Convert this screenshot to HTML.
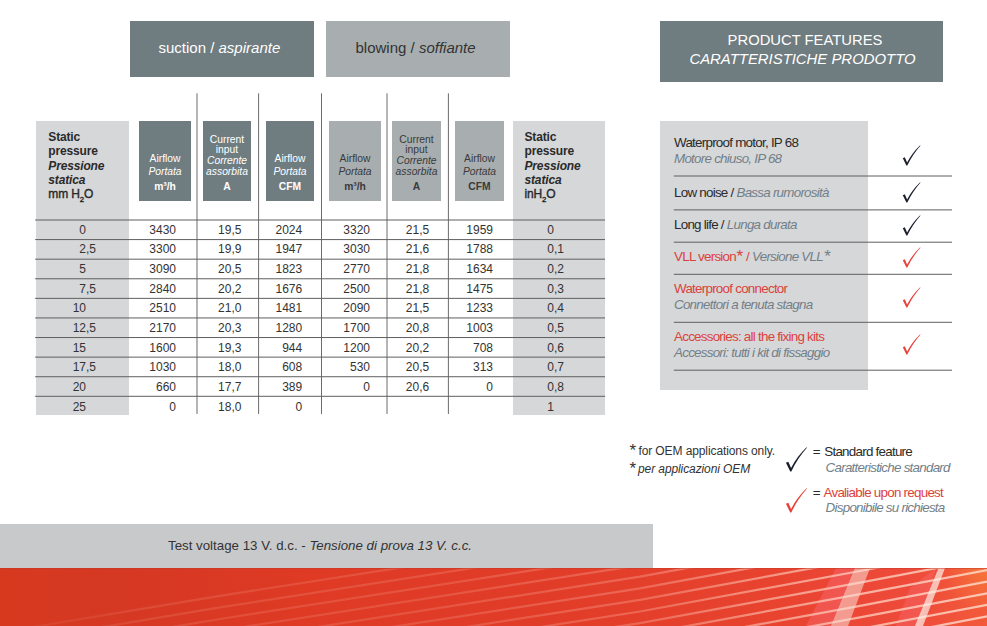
<!DOCTYPE html>
<html><head><meta charset="utf-8"><style>
*{margin:0;padding:0;box-sizing:border-box}
html,body{width:987px;height:626px;overflow:hidden;background:#fff}
body{position:relative;font-family:"Liberation Sans",sans-serif}
.r{position:absolute}
.t{position:absolute;white-space:nowrap}
sub{font-size:65%;vertical-align:-4px;line-height:0}
sup{font-size:110%;vertical-align:3px;line-height:0}
</style></head><body>
<div class="r" style="left:130px;top:21px;width:184px;height:56px;background:#6f7c80;"></div>
<div class="r" style="left:326px;top:21px;width:184px;height:56px;background:#a8aeb0;"></div>
<div class="t" style="left:158.5px;top:39px;font-size:15px;line-height:18px;color:#fff;">suction / <i>aspirante</i></div>
<div class="t" style="left:355.5px;top:39px;font-size:15px;line-height:18px;color:#333;">blowing / <i>soffiante</i></div>
<div class="r" style="left:660px;top:21px;width:283px;height:61px;background:#6f7c80;"></div>
<div class="t" style="left:605.0px;width:400px;text-align:center;top:31px;font-size:14.8px;line-height:18px;color:#fff;">PRODUCT FEATURES</div>
<div class="t" style="left:602.5px;width:400px;text-align:center;top:50px;font-size:14.9px;line-height:18px;color:#fff;"><i>CARATTERISTICHE PRODOTTO</i></div>
<div class="r" style="left:36px;top:121px;width:93px;height:294px;background:#d6d7d9;"></div>
<div class="r" style="left:513px;top:121px;width:92px;height:294px;background:#d6d7d9;"></div>
<div class="r" style="left:139px;top:121px;width:52px;height:80px;background:#6f7c80;"></div>
<div class="t" style="left:135.0px;width:60px;text-align:center;top:153px;font-size:10.3px;line-height:12px;color:#fff;">Airflow</div>
<div class="t" style="left:135.0px;width:60px;text-align:center;top:166px;font-size:10.3px;line-height:12px;color:#fff;"><i>Portata</i></div>
<div class="t" style="left:135.0px;width:60px;text-align:center;top:181px;font-size:10.3px;line-height:12px;color:#fff;"><b>m&sup3;/h</b></div>
<div class="r" style="left:203px;top:121px;width:48px;height:80px;background:#6f7c80;"></div>
<div class="t" style="left:197.0px;width:60px;text-align:center;top:134px;font-size:10.3px;line-height:12px;color:#fff;">Current</div>
<div class="t" style="left:197.0px;width:60px;text-align:center;top:144px;font-size:10.3px;line-height:12px;color:#fff;">input</div>
<div class="t" style="left:197.0px;width:60px;text-align:center;top:155px;font-size:10.3px;line-height:12px;color:#fff;"><i>Corrente</i></div>
<div class="t" style="left:197.0px;width:60px;text-align:center;top:166px;font-size:10.3px;line-height:12px;color:#fff;"><i>assorbita</i></div>
<div class="t" style="left:197.0px;width:60px;text-align:center;top:181px;font-size:10.3px;line-height:12px;color:#fff;"><b>A</b></div>
<div class="r" style="left:266px;top:121px;width:48px;height:80px;background:#6f7c80;"></div>
<div class="t" style="left:260.0px;width:60px;text-align:center;top:153px;font-size:10.3px;line-height:12px;color:#fff;">Airflow</div>
<div class="t" style="left:260.0px;width:60px;text-align:center;top:166px;font-size:10.3px;line-height:12px;color:#fff;"><i>Portata</i></div>
<div class="t" style="left:260.0px;width:60px;text-align:center;top:181px;font-size:10.3px;line-height:12px;color:#fff;"><b>CFM</b></div>
<div class="r" style="left:329px;top:121px;width:52px;height:80px;background:#a8aeb0;"></div>
<div class="t" style="left:325.0px;width:60px;text-align:center;top:153px;font-size:10.3px;line-height:12px;color:#3a3a3a;">Airflow</div>
<div class="t" style="left:325.0px;width:60px;text-align:center;top:166px;font-size:10.3px;line-height:12px;color:#3a3a3a;"><i>Portata</i></div>
<div class="t" style="left:325.0px;width:60px;text-align:center;top:181px;font-size:10.3px;line-height:12px;color:#3a3a3a;"><b>m&sup3;/h</b></div>
<div class="r" style="left:392px;top:121px;width:49px;height:80px;background:#a8aeb0;"></div>
<div class="t" style="left:386.5px;width:60px;text-align:center;top:134px;font-size:10.3px;line-height:12px;color:#3a3a3a;">Current</div>
<div class="t" style="left:386.5px;width:60px;text-align:center;top:144px;font-size:10.3px;line-height:12px;color:#3a3a3a;">input</div>
<div class="t" style="left:386.5px;width:60px;text-align:center;top:155px;font-size:10.3px;line-height:12px;color:#3a3a3a;"><i>Corrente</i></div>
<div class="t" style="left:386.5px;width:60px;text-align:center;top:166px;font-size:10.3px;line-height:12px;color:#3a3a3a;"><i>assorbita</i></div>
<div class="t" style="left:386.5px;width:60px;text-align:center;top:181px;font-size:10.3px;line-height:12px;color:#3a3a3a;"><b>A</b></div>
<div class="r" style="left:455px;top:121px;width:49px;height:80px;background:#a8aeb0;"></div>
<div class="t" style="left:449.5px;width:60px;text-align:center;top:153px;font-size:10.3px;line-height:12px;color:#3a3a3a;">Airflow</div>
<div class="t" style="left:449.5px;width:60px;text-align:center;top:166px;font-size:10.3px;line-height:12px;color:#3a3a3a;"><i>Portata</i></div>
<div class="t" style="left:449.5px;width:60px;text-align:center;top:181px;font-size:10.3px;line-height:12px;color:#3a3a3a;"><b>CFM</b></div>
<div class="t" style="left:48.3px;top:130px;font-size:12px;line-height:14px;color:#2a2a2a;letter-spacing:-0.15px;"><b>Static</b></div>
<div class="t" style="left:48.3px;top:144px;font-size:12px;line-height:14px;color:#2a2a2a;letter-spacing:-0.15px;"><b>pressure</b></div>
<div class="t" style="left:48.3px;top:159px;font-size:12px;line-height:14px;color:#2a2a2a;letter-spacing:-0.15px;"><b><i>Pressione</i></b></div>
<div class="t" style="left:48.3px;top:173px;font-size:12px;line-height:14px;color:#2a2a2a;letter-spacing:-0.15px;"><b><i>statica</i></b></div>
<div class="t" style="left:48.3px;top:187px;font-size:12px;line-height:14px;color:#2a2a2a;letter-spacing:-0.15px;"><span style="-webkit-text-stroke:0.35px #222">mm H<sub>2</sub>O</span></div>
<div class="t" style="left:524.5px;top:130px;font-size:12px;line-height:14px;color:#2a2a2a;letter-spacing:-0.15px;"><b>Static</b></div>
<div class="t" style="left:524.5px;top:144px;font-size:12px;line-height:14px;color:#2a2a2a;letter-spacing:-0.15px;"><b>pressure</b></div>
<div class="t" style="left:524.5px;top:159px;font-size:12px;line-height:14px;color:#2a2a2a;letter-spacing:-0.15px;"><b><i>Pressione</i></b></div>
<div class="t" style="left:524.5px;top:173px;font-size:12px;line-height:14px;color:#2a2a2a;letter-spacing:-0.15px;"><b><i>statica</i></b></div>
<div class="t" style="left:524.5px;top:187px;font-size:12px;line-height:14px;color:#2a2a2a;letter-spacing:-0.15px;"><span style="-webkit-text-stroke:0.35px #222">inH<sub>2</sub>O</span></div>
<svg class="r" style="left:0;top:0" width="987" height="626"><line x1="197.0" y1="93.3" x2="197.0" y2="414" stroke="#6c6c6c" stroke-width="1"/><line x1="258.6" y1="93.3" x2="258.6" y2="414" stroke="#6c6c6c" stroke-width="1"/><line x1="321.5" y1="93.3" x2="321.5" y2="414" stroke="#6c6c6c" stroke-width="1"/><line x1="387.0" y1="93.3" x2="387.0" y2="414" stroke="#6c6c6c" stroke-width="1"/><line x1="448.4" y1="93.3" x2="448.4" y2="414" stroke="#6c6c6c" stroke-width="1"/><line x1="35.2" y1="220.00" x2="605" y2="220.00" stroke="#5f5f5f" stroke-width="1"/><line x1="35.2" y1="239.59" x2="605" y2="239.59" stroke="#5f5f5f" stroke-width="1"/><line x1="35.2" y1="259.18" x2="605" y2="259.18" stroke="#5f5f5f" stroke-width="1"/><line x1="35.2" y1="278.77" x2="605" y2="278.77" stroke="#5f5f5f" stroke-width="1"/><line x1="35.2" y1="298.36" x2="605" y2="298.36" stroke="#5f5f5f" stroke-width="1"/><line x1="35.2" y1="317.95" x2="605" y2="317.95" stroke="#5f5f5f" stroke-width="1"/><line x1="35.2" y1="337.54" x2="605" y2="337.54" stroke="#5f5f5f" stroke-width="1"/><line x1="35.2" y1="357.13" x2="605" y2="357.13" stroke="#5f5f5f" stroke-width="1"/><line x1="35.2" y1="376.72" x2="605" y2="376.72" stroke="#5f5f5f" stroke-width="1"/><line x1="35.2" y1="396.31" x2="605" y2="396.31" stroke="#5f5f5f" stroke-width="1"/></svg>
<div class="t" style="left:26px;width:60px;text-align:right;top:223px;font-size:12px;line-height:14px;color:#333;">0</div>
<div class="t" style="left:116px;width:60px;text-align:right;top:223px;font-size:12px;line-height:14px;color:#333;">3430</div>
<div class="t" style="left:199.8px;width:60px;text-align:center;top:223px;font-size:12px;line-height:14px;color:#333;">19,5</div>
<div class="t" style="left:242.2px;width:60px;text-align:right;top:223px;font-size:12px;line-height:14px;color:#333;">2024</div>
<div class="t" style="left:310px;width:60px;text-align:right;top:223px;font-size:12px;line-height:14px;color:#333;">3320</div>
<div class="t" style="left:387.5px;width:60px;text-align:center;top:223px;font-size:12px;line-height:14px;color:#333;">21,5</div>
<div class="t" style="left:433px;width:60px;text-align:right;top:223px;font-size:12px;line-height:14px;color:#333;">1959</div>
<div class="t" style="left:494px;width:60px;text-align:right;top:223px;font-size:12px;line-height:14px;color:#333;">0</div>
<div class="t" style="left:26px;width:60px;text-align:right;top:242px;font-size:12px;line-height:14px;color:#333;">2</div>
<div class="t" style="left:86px;top:242px;font-size:12px;line-height:14px;color:#333;">,5</div>
<div class="t" style="left:116px;width:60px;text-align:right;top:242px;font-size:12px;line-height:14px;color:#333;">3300</div>
<div class="t" style="left:199.8px;width:60px;text-align:center;top:242px;font-size:12px;line-height:14px;color:#333;">19,9</div>
<div class="t" style="left:242.2px;width:60px;text-align:right;top:242px;font-size:12px;line-height:14px;color:#333;">1947</div>
<div class="t" style="left:310px;width:60px;text-align:right;top:242px;font-size:12px;line-height:14px;color:#333;">3030</div>
<div class="t" style="left:387.5px;width:60px;text-align:center;top:242px;font-size:12px;line-height:14px;color:#333;">21,6</div>
<div class="t" style="left:433px;width:60px;text-align:right;top:242px;font-size:12px;line-height:14px;color:#333;">1788</div>
<div class="t" style="left:494px;width:60px;text-align:right;top:242px;font-size:12px;line-height:14px;color:#333;">0</div>
<div class="t" style="left:554px;top:242px;font-size:12px;line-height:14px;color:#333;">,1</div>
<div class="t" style="left:26px;width:60px;text-align:right;top:262px;font-size:12px;line-height:14px;color:#333;">5</div>
<div class="t" style="left:116px;width:60px;text-align:right;top:262px;font-size:12px;line-height:14px;color:#333;">3090</div>
<div class="t" style="left:199.8px;width:60px;text-align:center;top:262px;font-size:12px;line-height:14px;color:#333;">20,5</div>
<div class="t" style="left:242.2px;width:60px;text-align:right;top:262px;font-size:12px;line-height:14px;color:#333;">1823</div>
<div class="t" style="left:310px;width:60px;text-align:right;top:262px;font-size:12px;line-height:14px;color:#333;">2770</div>
<div class="t" style="left:387.5px;width:60px;text-align:center;top:262px;font-size:12px;line-height:14px;color:#333;">21,8</div>
<div class="t" style="left:433px;width:60px;text-align:right;top:262px;font-size:12px;line-height:14px;color:#333;">1634</div>
<div class="t" style="left:494px;width:60px;text-align:right;top:262px;font-size:12px;line-height:14px;color:#333;">0</div>
<div class="t" style="left:554px;top:262px;font-size:12px;line-height:14px;color:#333;">,2</div>
<div class="t" style="left:26px;width:60px;text-align:right;top:282px;font-size:12px;line-height:14px;color:#333;">7</div>
<div class="t" style="left:86px;top:282px;font-size:12px;line-height:14px;color:#333;">,5</div>
<div class="t" style="left:116px;width:60px;text-align:right;top:282px;font-size:12px;line-height:14px;color:#333;">2840</div>
<div class="t" style="left:199.8px;width:60px;text-align:center;top:282px;font-size:12px;line-height:14px;color:#333;">20,2</div>
<div class="t" style="left:242.2px;width:60px;text-align:right;top:282px;font-size:12px;line-height:14px;color:#333;">1676</div>
<div class="t" style="left:310px;width:60px;text-align:right;top:282px;font-size:12px;line-height:14px;color:#333;">2500</div>
<div class="t" style="left:387.5px;width:60px;text-align:center;top:282px;font-size:12px;line-height:14px;color:#333;">21,8</div>
<div class="t" style="left:433px;width:60px;text-align:right;top:282px;font-size:12px;line-height:14px;color:#333;">1475</div>
<div class="t" style="left:494px;width:60px;text-align:right;top:282px;font-size:12px;line-height:14px;color:#333;">0</div>
<div class="t" style="left:554px;top:282px;font-size:12px;line-height:14px;color:#333;">,3</div>
<div class="t" style="left:26px;width:60px;text-align:right;top:301px;font-size:12px;line-height:14px;color:#333;">10</div>
<div class="t" style="left:116px;width:60px;text-align:right;top:301px;font-size:12px;line-height:14px;color:#333;">2510</div>
<div class="t" style="left:199.8px;width:60px;text-align:center;top:301px;font-size:12px;line-height:14px;color:#333;">21,0</div>
<div class="t" style="left:242.2px;width:60px;text-align:right;top:301px;font-size:12px;line-height:14px;color:#333;">1481</div>
<div class="t" style="left:310px;width:60px;text-align:right;top:301px;font-size:12px;line-height:14px;color:#333;">2090</div>
<div class="t" style="left:387.5px;width:60px;text-align:center;top:301px;font-size:12px;line-height:14px;color:#333;">21,5</div>
<div class="t" style="left:433px;width:60px;text-align:right;top:301px;font-size:12px;line-height:14px;color:#333;">1233</div>
<div class="t" style="left:494px;width:60px;text-align:right;top:301px;font-size:12px;line-height:14px;color:#333;">0</div>
<div class="t" style="left:554px;top:301px;font-size:12px;line-height:14px;color:#333;">,4</div>
<div class="t" style="left:26px;width:60px;text-align:right;top:321px;font-size:12px;line-height:14px;color:#333;">12</div>
<div class="t" style="left:86px;top:321px;font-size:12px;line-height:14px;color:#333;">,5</div>
<div class="t" style="left:116px;width:60px;text-align:right;top:321px;font-size:12px;line-height:14px;color:#333;">2170</div>
<div class="t" style="left:199.8px;width:60px;text-align:center;top:321px;font-size:12px;line-height:14px;color:#333;">20,3</div>
<div class="t" style="left:242.2px;width:60px;text-align:right;top:321px;font-size:12px;line-height:14px;color:#333;">1280</div>
<div class="t" style="left:310px;width:60px;text-align:right;top:321px;font-size:12px;line-height:14px;color:#333;">1700</div>
<div class="t" style="left:387.5px;width:60px;text-align:center;top:321px;font-size:12px;line-height:14px;color:#333;">20,8</div>
<div class="t" style="left:433px;width:60px;text-align:right;top:321px;font-size:12px;line-height:14px;color:#333;">1003</div>
<div class="t" style="left:494px;width:60px;text-align:right;top:321px;font-size:12px;line-height:14px;color:#333;">0</div>
<div class="t" style="left:554px;top:321px;font-size:12px;line-height:14px;color:#333;">,5</div>
<div class="t" style="left:26px;width:60px;text-align:right;top:341px;font-size:12px;line-height:14px;color:#333;">15</div>
<div class="t" style="left:116px;width:60px;text-align:right;top:341px;font-size:12px;line-height:14px;color:#333;">1600</div>
<div class="t" style="left:199.8px;width:60px;text-align:center;top:341px;font-size:12px;line-height:14px;color:#333;">19,3</div>
<div class="t" style="left:242.2px;width:60px;text-align:right;top:341px;font-size:12px;line-height:14px;color:#333;">944</div>
<div class="t" style="left:310px;width:60px;text-align:right;top:341px;font-size:12px;line-height:14px;color:#333;">1200</div>
<div class="t" style="left:387.5px;width:60px;text-align:center;top:341px;font-size:12px;line-height:14px;color:#333;">20,2</div>
<div class="t" style="left:433px;width:60px;text-align:right;top:341px;font-size:12px;line-height:14px;color:#333;">708</div>
<div class="t" style="left:494px;width:60px;text-align:right;top:341px;font-size:12px;line-height:14px;color:#333;">0</div>
<div class="t" style="left:554px;top:341px;font-size:12px;line-height:14px;color:#333;">,6</div>
<div class="t" style="left:26px;width:60px;text-align:right;top:360px;font-size:12px;line-height:14px;color:#333;">17</div>
<div class="t" style="left:86px;top:360px;font-size:12px;line-height:14px;color:#333;">,5</div>
<div class="t" style="left:116px;width:60px;text-align:right;top:360px;font-size:12px;line-height:14px;color:#333;">1030</div>
<div class="t" style="left:199.8px;width:60px;text-align:center;top:360px;font-size:12px;line-height:14px;color:#333;">18,0</div>
<div class="t" style="left:242.2px;width:60px;text-align:right;top:360px;font-size:12px;line-height:14px;color:#333;">608</div>
<div class="t" style="left:310px;width:60px;text-align:right;top:360px;font-size:12px;line-height:14px;color:#333;">530</div>
<div class="t" style="left:387.5px;width:60px;text-align:center;top:360px;font-size:12px;line-height:14px;color:#333;">20,5</div>
<div class="t" style="left:433px;width:60px;text-align:right;top:360px;font-size:12px;line-height:14px;color:#333;">313</div>
<div class="t" style="left:494px;width:60px;text-align:right;top:360px;font-size:12px;line-height:14px;color:#333;">0</div>
<div class="t" style="left:554px;top:360px;font-size:12px;line-height:14px;color:#333;">,7</div>
<div class="t" style="left:26px;width:60px;text-align:right;top:380px;font-size:12px;line-height:14px;color:#333;">20</div>
<div class="t" style="left:116px;width:60px;text-align:right;top:380px;font-size:12px;line-height:14px;color:#333;">660</div>
<div class="t" style="left:199.8px;width:60px;text-align:center;top:380px;font-size:12px;line-height:14px;color:#333;">17,7</div>
<div class="t" style="left:242.2px;width:60px;text-align:right;top:380px;font-size:12px;line-height:14px;color:#333;">389</div>
<div class="t" style="left:310px;width:60px;text-align:right;top:380px;font-size:12px;line-height:14px;color:#333;">0</div>
<div class="t" style="left:387.5px;width:60px;text-align:center;top:380px;font-size:12px;line-height:14px;color:#333;">20,6</div>
<div class="t" style="left:433px;width:60px;text-align:right;top:380px;font-size:12px;line-height:14px;color:#333;">0</div>
<div class="t" style="left:494px;width:60px;text-align:right;top:380px;font-size:12px;line-height:14px;color:#333;">0</div>
<div class="t" style="left:554px;top:380px;font-size:12px;line-height:14px;color:#333;">,8</div>
<div class="t" style="left:26px;width:60px;text-align:right;top:400px;font-size:12px;line-height:14px;color:#333;">25</div>
<div class="t" style="left:116px;width:60px;text-align:right;top:400px;font-size:12px;line-height:14px;color:#333;">0</div>
<div class="t" style="left:199.8px;width:60px;text-align:center;top:400px;font-size:12px;line-height:14px;color:#333;">18,0</div>
<div class="t" style="left:242.2px;width:60px;text-align:right;top:400px;font-size:12px;line-height:14px;color:#333;">0</div>
<div class="t" style="left:494px;width:60px;text-align:right;top:400px;font-size:12px;line-height:14px;color:#333;">1</div>
<div class="r" style="left:660px;top:121px;width:208px;height:269px;background:#d6d7d9;"></div>
<svg class="r" style="left:0;top:0" width="987" height="626"><line x1="673.8" y1="176.0" x2="952" y2="176.0" stroke="#5f5f5f" stroke-width="1"/><line x1="673.8" y1="209.9" x2="952" y2="209.9" stroke="#5f5f5f" stroke-width="1"/><line x1="673.8" y1="242.2" x2="952" y2="242.2" stroke="#5f5f5f" stroke-width="1"/><line x1="673.8" y1="274.3" x2="952" y2="274.3" stroke="#5f5f5f" stroke-width="1"/><line x1="673.8" y1="322.3" x2="952" y2="322.3" stroke="#5f5f5f" stroke-width="1"/><line x1="673.8" y1="370.2" x2="952" y2="370.2" stroke="#5f5f5f" stroke-width="1"/></svg>
<div class="t" style="left:674px;top:135px;font-size:13.4px;line-height:16px;color:#2a2a2a;letter-spacing:-0.75px;">Waterproof motor, IP 68</div>
<div class="t" style="left:674px;top:151px;font-size:13.4px;line-height:16px;color:#727f88;letter-spacing:-0.75px;"><i>Motore chiuso, IP 68</i></div>
<div class="t" style="left:674px;top:185px;font-size:13.4px;line-height:16px;color:#2a2a2a;letter-spacing:-0.75px;">Low noise / <i style="color:#727f88">Bassa rumorosità</i></div>
<div class="t" style="left:674px;top:217px;font-size:13.4px;line-height:16px;color:#2a2a2a;letter-spacing:-0.75px;">Long life / <i style="color:#727f88">Lunga durata</i></div>
<div class="t" style="left:674px;top:249px;font-size:13.4px;line-height:16px;color:#dc423c;letter-spacing:-0.75px;">VLL version<span style="font-size:17px;line-height:0;vertical-align:-1px;letter-spacing:0;margin-left:0.5px">*</span> / <i style="color:#727f88">Versione VLL<span style="font-size:17px;line-height:0;vertical-align:-1px;letter-spacing:0;margin-left:0.5px">*</span></i></div>
<div class="t" style="left:674px;top:281px;font-size:13.4px;line-height:16px;color:#dc423c;letter-spacing:-0.75px;">Waterproof connector</div>
<div class="t" style="left:674px;top:297px;font-size:13.4px;line-height:16px;color:#727f88;letter-spacing:-0.75px;"><i>Connettori a tenuta stagna</i></div>
<div class="t" style="left:674px;top:329px;font-size:13.4px;line-height:16px;color:#dc423c;letter-spacing:-0.75px;">Accessories: all the fixing kits</div>
<div class="t" style="left:674px;top:345px;font-size:13.4px;line-height:16px;color:#727f88;letter-spacing:-0.75px;"><i>Accessori: tutti i kit di fissaggio</i></div>
<svg class="r" style="left:902px;top:145.2px;overflow:visible" width="20.0" height="22.0" viewBox="0 0 20 22"><path d="M0.8,13.2 L2.8,12.3 L5.1,17.6 Q9.8,8.4 17.9,0.5 L18.6,0.5 Q10.4,9.7 5.3,20.6 L4.4,20.6 Z" fill="#1c1f2e"/></svg>
<svg class="r" style="left:902px;top:182px;overflow:visible" width="20.0" height="22.0" viewBox="0 0 20 22"><path d="M0.8,13.2 L2.8,12.3 L5.1,17.6 Q9.8,8.4 17.9,0.5 L18.6,0.5 Q10.4,9.7 5.3,20.6 L4.4,20.6 Z" fill="#1c1f2e"/></svg>
<svg class="r" style="left:902px;top:214.8px;overflow:visible" width="20.0" height="22.0" viewBox="0 0 20 22"><path d="M0.8,13.2 L2.8,12.3 L5.1,17.6 Q9.8,8.4 17.9,0.5 L18.6,0.5 Q10.4,9.7 5.3,20.6 L4.4,20.6 Z" fill="#1c1f2e"/></svg>
<svg class="r" style="left:902px;top:247.3px;overflow:visible" width="20.0" height="22.0" viewBox="0 0 20 22"><path d="M0.8,13.2 L2.8,12.3 L5.1,17.6 Q9.8,8.4 17.9,0.5 L18.6,0.5 Q10.4,9.7 5.3,20.6 L4.4,20.6 Z" fill="#e8413a"/></svg>
<svg class="r" style="left:902px;top:287px;overflow:visible" width="20.0" height="22.0" viewBox="0 0 20 22"><path d="M0.8,13.2 L2.8,12.3 L5.1,17.6 Q9.8,8.4 17.9,0.5 L18.6,0.5 Q10.4,9.7 5.3,20.6 L4.4,20.6 Z" fill="#e8413a"/></svg>
<svg class="r" style="left:902px;top:333.5px;overflow:visible" width="20.0" height="22.0" viewBox="0 0 20 22"><path d="M0.8,13.2 L2.8,12.3 L5.1,17.6 Q9.8,8.4 17.9,0.5 L18.6,0.5 Q10.4,9.7 5.3,20.6 L4.4,20.6 Z" fill="#e8413a"/></svg>
<div class="t" style="left:629.5px;top:444px;font-size:12px;line-height:14px;color:#333;letter-spacing:-0.1px;"><span style="font-size:17px;line-height:0;vertical-align:-1px;margin-right:2.4px">*</span>for OEM applications only.</div>
<div class="t" style="left:629.5px;top:462px;font-size:12px;line-height:14px;color:#333;letter-spacing:-0.1px;"><span style="font-size:17px;line-height:0;vertical-align:-1px;margin-right:2px">*</span><i>per applicazioni OEM</i></div>
<svg class="r" style="left:785.3px;top:447.2px;overflow:visible" width="23.8" height="26.2" viewBox="0 0 20 22"><path d="M0.8,13.2 L2.8,12.3 L5.1,17.6 Q9.8,8.4 17.9,0.5 L18.6,0.5 Q10.4,9.7 5.3,20.6 L4.4,20.6 Z" fill="#1c1f2e"/></svg>
<svg class="r" style="left:785.3px;top:487.5px;overflow:visible" width="23.8" height="26.2" viewBox="0 0 20 22"><path d="M0.8,13.2 L2.8,12.3 L5.1,17.6 Q9.8,8.4 17.9,0.5 L18.6,0.5 Q10.4,9.7 5.3,20.6 L4.4,20.6 Z" fill="#e8413a"/></svg>
<div class="t" style="left:812.8px;top:444px;font-size:13.4px;line-height:16px;color:#2a2a2a;letter-spacing:-0.75px;"><span style="margin-right:1.4px">=</span> Standard feature</div>
<div class="t" style="left:825.6px;top:460px;font-size:13.4px;line-height:16px;color:#727f88;letter-spacing:-0.75px;"><i>Caratteristiche standard</i></div>
<div class="t" style="left:812.8px;top:485px;font-size:13.4px;line-height:16px;color:#2a2a2a;letter-spacing:-0.75px;"><span style="margin-right:1.4px">=</span> <span style="color:#dc423c">Avaliable upon request</span></div>
<div class="t" style="left:825.6px;top:500px;font-size:13.4px;line-height:16px;color:#727f88;letter-spacing:-0.75px;"><i>Disponibile su richiesta</i></div>
<div class="r" style="left:0px;top:524px;width:653px;height:44px;background:#c8c9cb;"></div>
<div class="t" style="left:168px;top:538px;font-size:13.3px;line-height:16px;color:#333;">Test voltage 13 V. d.c. - <i>Tensione di prova 13 V. c.c.</i></div>
<svg class="r" style="left:0;top:568px" width="987" height="58" viewBox="0 0 987 58"><defs><linearGradient id="bg" x1="0" y1="0" x2="987" y2="0" gradientUnits="userSpaceOnUse"><stop offset="0" stop-color="#d7391f"/><stop offset="0.12" stop-color="#d53823"/><stop offset="0.3" stop-color="#de3a24"/><stop offset="0.55" stop-color="#e13c28"/><stop offset="0.78" stop-color="#e8432f"/><stop offset="0.92" stop-color="#ee4a3a"/><stop offset="1" stop-color="#f25a3a"/></linearGradient><linearGradient id="lg" x1="0" y1="0" x2="987" y2="0" gradientUnits="userSpaceOnUse"><stop offset="0" stop-color="#ffd0c0" stop-opacity="0.04"/><stop offset="0.15" stop-color="#ffd0c0" stop-opacity="0.13"/><stop offset="0.45" stop-color="#ffd0c0" stop-opacity="0.18"/><stop offset="0.65" stop-color="#ffd0c0" stop-opacity="0.28"/><stop offset="0.78" stop-color="#ffd8c8" stop-opacity="0.55"/><stop offset="0.86" stop-color="#ffd8c8" stop-opacity="0.7"/><stop offset="1" stop-color="#ffe0d0" stop-opacity="0.8"/></linearGradient><radialGradient id="og" cx="987" cy="0" r="45" gradientUnits="userSpaceOnUse"><stop offset="0" stop-color="#f7803a" stop-opacity="0.75"/><stop offset="1" stop-color="#f7803a" stop-opacity="0"/></radialGradient></defs><rect width="987" height="58" fill="url(#bg)"/><rect width="987" height="58" fill="url(#og)"/><polygon points="836,0 856,0 832,58 806,58" fill="#ff7a90" fill-opacity="0.3"/><polygon points="910,20 936,0 920,58 896,58" fill="#ff7a90" fill-opacity="0.25"/><path d="M0,64.5 L220,27.8 L640,-37.7 L860,-78.2 L990,-102.9 M0,76.1 L220,39.4 L640,-26.1 L860,-66.6 L990,-91.3 M0,87.7 L220,51.0 L640,-14.5 L860,-55.0 L990,-79.7 M0,99.3 L220,62.6 L640,-2.9 L860,-43.4 L990,-68.1 M0,110.9 L220,74.2 L640,8.7 L860,-31.8 L990,-56.5 M0,122.5 L220,85.8 L640,20.3 L860,-20.2 L990,-44.9 M0,134.1 L220,97.4 L640,31.9 L860,-8.6 L990,-33.3 M0,145.7 L220,109.0 L640,43.5 L860,3.0 L990,-21.7 M0,157.3 L220,120.6 L640,55.1 L860,14.6 L990,-10.1 M0,168.9 L220,132.2 L640,66.7 L860,26.2 L990,1.5 M0,180.5 L220,143.8 L640,78.3 L860,37.8 L990,13.1 M0,192.1 L220,155.4 L640,89.9 L860,49.4 L990,24.7 M0,203.7 L220,167.0 L640,101.5 L860,61.0 L990,36.3 M0,215.3 L220,178.6 L640,113.1 L860,72.6 L990,47.9" fill="none" stroke="url(#lg)" stroke-width="2.2"/><polygon points="855,0 870,0 848,58 831,58" fill="#fbe0d8" fill-opacity="0.55"/><polygon points="938.5,0 945,0 923,58 915,58" fill="#fff0e8" fill-opacity="0.7"/><rect width="987" height="1" fill="#c03a28" fill-opacity="0.5"/></svg>
</body></html>
